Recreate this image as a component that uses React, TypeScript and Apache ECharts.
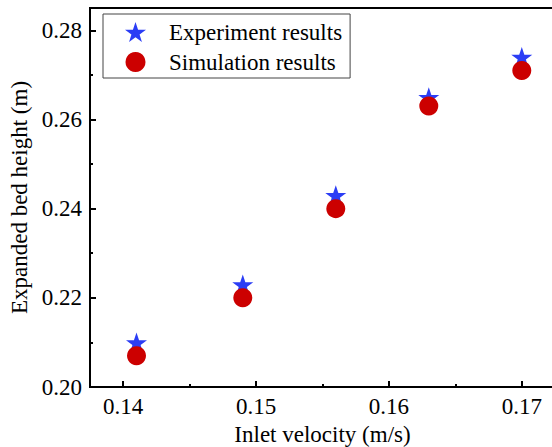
import React, { useEffect, useRef } from "react";
import * as echarts from "echarts";

const velocities = [0.141, 0.149, 0.156, 0.163, 0.17];
const experimentHeights = [0.21, 0.223, 0.243, 0.265, 0.274];
const simulationHeights = [0.207, 0.22, 0.24, 0.263, 0.271];
const xMajorTicks = [0.14, 0.15, 0.16, 0.17];
const xMinorTicks = [0.145, 0.155, 0.165];
const yMajorTicks = [0.2, 0.22, 0.24, 0.26, 0.28];
const yMinorTicks = [0.21, 0.23, 0.25, 0.27];
const seriesNames = ["Experiment results", "Simulation results"];

const STAR =
  "path://M50,0 L61.8,35.1 L98.1,35.1 L68.7,56.7 L79.4,90.5 L50,69.5 L20.6,90.5 L31.3,56.7 L1.9,35.1 L38.2,35.1 Z";

const FONT = "Liberation Serif";
const FS = 23;

export default function App() {
  const ref = useRef<HTMLDivElement>(null);
  useEffect(() => {
    if (!ref.current) return;
    const chart = echarts.init(ref.current, null, { renderer: "svg" });
    const xMin = 0.1375, xMax = 0.1725, yMin = 0.2, yMax = 0.285;
    const gridPos = { left: 90, top: 8, right: -3, bottom: 60, outerBoundsMode: "none", containLabel: false };
    const txt = { fontFamily: FONT, fontSize: FS, color: "#000" };
    chart.setOption({
      animation: false,
      backgroundColor: "#fff",
      textStyle: { fontFamily: FONT },
      grid: [
        { ...gridPos, show: true, borderColor: "#000", borderWidth: 2, backgroundColor: "transparent" },
        { ...gridPos, show: false },
      ],
      legend: {
        orient: "vertical",
        left: 103,
        top: 14,
        padding: [6, 8, 4, 22],
        borderColor: "#444",
        borderWidth: 1,
        itemWidth: 21,
        itemHeight: 20,
        itemGap: 6,
        symbolKeepAspect: true,
        textStyle: { ...txt, lineHeight: 24, padding: [0, 0, 0, 18] },
        data: seriesNames,
      },
      xAxis: [
        {
          type: "value",
          gridIndex: 0,
          min: xMin,
          max: xMax,
          position: "bottom",
          name: "Inlet velocity (m/s)",
          nameLocation: "middle",
          nameGap: 36,
          nameTextStyle: txt,
          axisLine: { show: true, lineStyle: { color: "#000", width: 2 } },
          axisTick: { show: true, inside: true, length: 6, lineStyle: { color: "#000", width: 2 }, customValues: xMajorTicks },
          axisLabel: { ...txt, margin: 8, customValues: xMajorTicks, formatter: (v: number) => v.toFixed(2) },
          splitLine: { show: false },
        },
        {
          type: "value",
          gridIndex: 1,
          min: xMin,
          max: xMax,
          position: "bottom",
          axisLine: { show: false },
          axisTick: { show: true, inside: true, length: 3, lineStyle: { color: "#000", width: 2 }, customValues: xMinorTicks },
          axisLabel: { show: false },
          splitLine: { show: false },
        },
      ],
      yAxis: [
        {
          type: "value",
          gridIndex: 0,
          min: yMin,
          max: yMax,
          position: "left",
          name: "Expanded bed height (m)",
          nameLocation: "middle",
          nameGap: 52,
          nameTextStyle: txt,
          axisLine: { show: true, lineStyle: { color: "#000", width: 2 } },
          axisTick: { show: true, inside: true, length: 6, lineStyle: { color: "#000", width: 2 }, customValues: yMajorTicks },
          axisLabel: { ...txt, margin: 8, customValues: yMajorTicks, formatter: (v: number) => v.toFixed(2) },
          splitLine: { show: false },
        },
        {
          type: "value",
          gridIndex: 1,
          min: yMin,
          max: yMax,
          position: "left",
          axisLine: { show: false },
          axisTick: { show: true, inside: true, length: 3, lineStyle: { color: "#000", width: 2 }, customValues: yMinorTicks },
          axisLabel: { show: false },
          splitLine: { show: false },
        },
      ],
      series: [
        {
          name: seriesNames[0],
          type: "scatter",
          xAxisIndex: 0,
          yAxisIndex: 0,
          symbol: STAR,
          symbolSize: [21, 20],
          itemStyle: { color: "#2b3df5", opacity: 1 },
          data: velocities.map((v, i) => [v, experimentHeights[i]]),
        },
        {
          name: seriesNames[1],
          type: "scatter",
          xAxisIndex: 0,
          yAxisIndex: 0,
          symbol: "circle",
          symbolSize: 19,
          itemStyle: { color: "#cc0000", opacity: 1 },
          data: velocities.map((v, i) => [v, simulationHeights[i]]),
        },
      ],
    });
    return () => chart.dispose();
  }, []);
  return (
    <div
      ref={ref}
      style={{ position: "fixed", left: 0, top: 0, width: 552, height: 447, background: "#fff" }}
    />
  );
}
